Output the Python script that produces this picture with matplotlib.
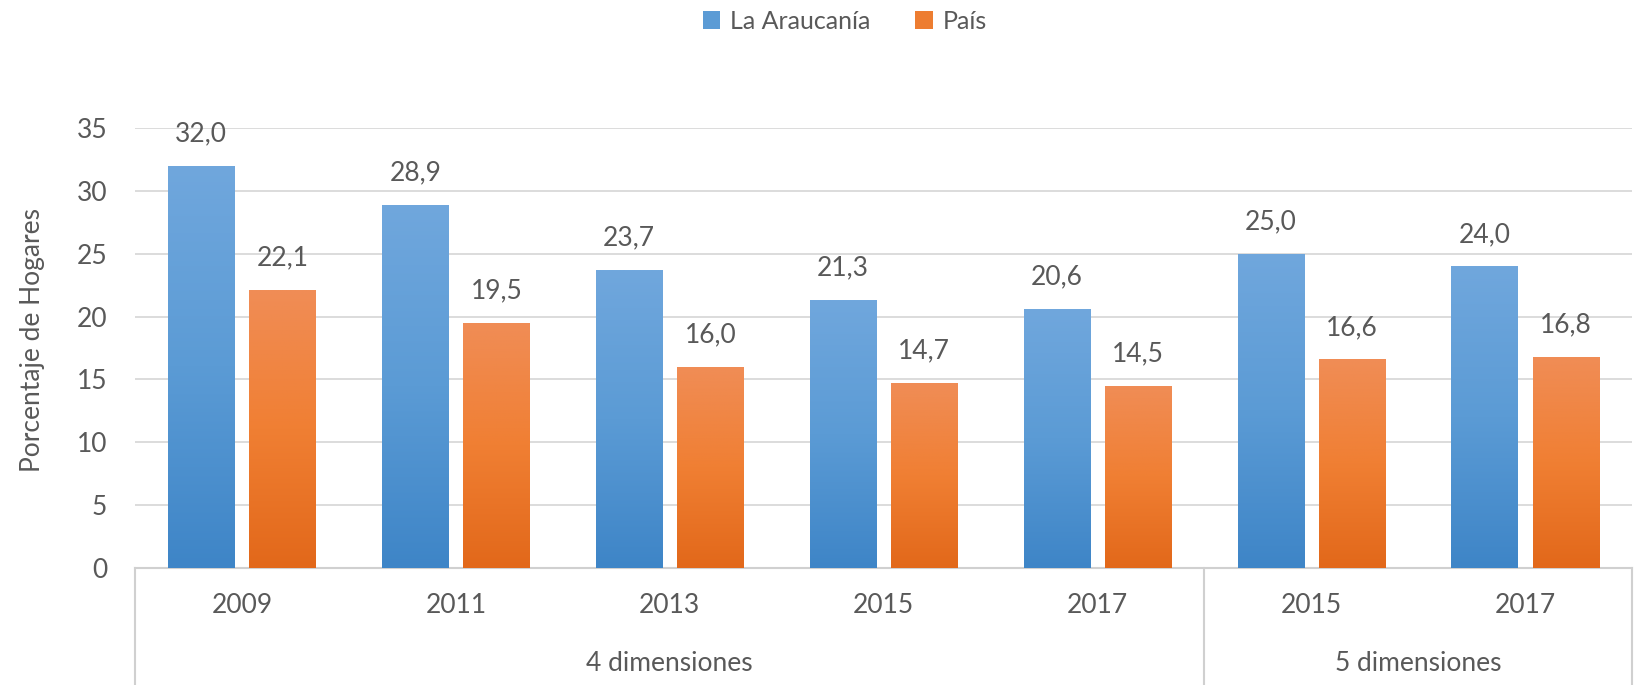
import matplotlib
matplotlib.use("Agg")
import matplotlib.pyplot as plt
from matplotlib.patches import Patch
from matplotlib.colors import LinearSegmentedColormap
import numpy as np

plt.rcParams['font.family'] = ['Lato', 'DejaVu Sans']

years = ["2009", "2011", "2013", "2015", "2017", "2015", "2017"]
groups = ["4 dimensiones", "5 dimensiones"]
group_sizes = [5, 2]
araucania = [32.0, 28.9, 23.7, 21.3, 20.6, 25.0, 24.0]
pais = [22.1, 19.5, 16.0, 14.7, 14.5, 16.6, 16.8]

txt = "#595959"
blue = "#5B9BD5"
orange = "#ED7D31"
blue_grad = LinearSegmentedColormap.from_list("b", ["#3E85C7", "#5B9BD5", "#70A7DD"])
orange_grad = LinearSegmentedColormap.from_list("o", ["#E2681A", "#F07F33", "#F08D56"])

fig = plt.figure(figsize=(16.39, 6.85), dpi=100)
ax = fig.add_axes([0.0824, 0.1708, 0.9134, 0.6423])

x = np.arange(len(years))
w = 0.31
off = 0.19
b1 = ax.bar(x - off, araucania, w, color=blue, zorder=2)
b2 = ax.bar(x + off, pais, w, color=orange, zorder=2)

grad = np.linspace(0, 1, 256).reshape(-1, 1)
for bars, cmap in ((b1, blue_grad), (b2, orange_grad)):
    for b in bars:
        bx, bw, bh = b.get_x(), b.get_width(), b.get_height()
        im = ax.imshow(grad, cmap=cmap, origin="lower", aspect="auto",
                       extent=[bx, bx + bw, 0, bh], zorder=3)
        im.set_clip_path(b)
    for b in bars:
        v = b.get_height()
        ax.annotate(f"{v:.1f}".replace(".", ","),
                    (b.get_x() + b.get_width() / 2, v),
                    xytext=(0, 23), textcoords="offset points",
                    ha="center", va="center", fontsize=19, color=txt,
                    annotation_clip=False)

ax.set_xlim(-0.5, len(years) - 0.5)
ax.set_ylim(0, 35)
ax.set_yticks(np.arange(0, 36, 5))
ax.yaxis.grid(True, color="#D9D9D9", linewidth=1.3, zorder=0)
ax.set_axisbelow(True)
ax.tick_params(axis="y", length=0, pad=20, labelsize=19, labelcolor=txt)
ax.set_xticks([])
for s in ("top", "right", "left"):
    ax.spines[s].set_visible(False)
ax.spines["bottom"].set_color("#D0D0D0")
ax.spines["bottom"].set_linewidth(1.5)

ax.set_ylabel("Porcentaje de Hogares", fontsize=19, color=txt)
ax.yaxis.set_label_coords(-0.060, 0.518)

# two-level category axis
trans = ax.get_xaxis_transform()
for i, yr in enumerate(years):
    ax.text(i, -0.086, yr, transform=trans, ha="center", va="center",
            fontsize=19, color=txt)
start = 0
bounds = [-0.5]
for g, n in zip(groups, group_sizes):
    ax.text(start + (n - 1) / 2, -0.218, g, transform=trans, ha="center",
            va="center", fontsize=19, color=txt)
    start += n
    bounds.append(start - 0.5)
for bx in bounds:
    ax.plot([bx, bx], [0, -0.3], transform=trans, color="#D0D0D0",
            linewidth=1.5, clip_on=False)

handles = [Patch(facecolor=blue, label="La Araucanía"),
           Patch(facecolor=orange, label="País")]
fig.legend(handles=handles, loc="center", bbox_to_anchor=(0.5155, 0.969),
           ncol=2, frameon=False, fontsize=18, labelcolor=txt,
           handlelength=0.7, handleheight=0.7, handletextpad=0.4,
           columnspacing=1.8)

fig.savefig("out.png", dpi=100)
